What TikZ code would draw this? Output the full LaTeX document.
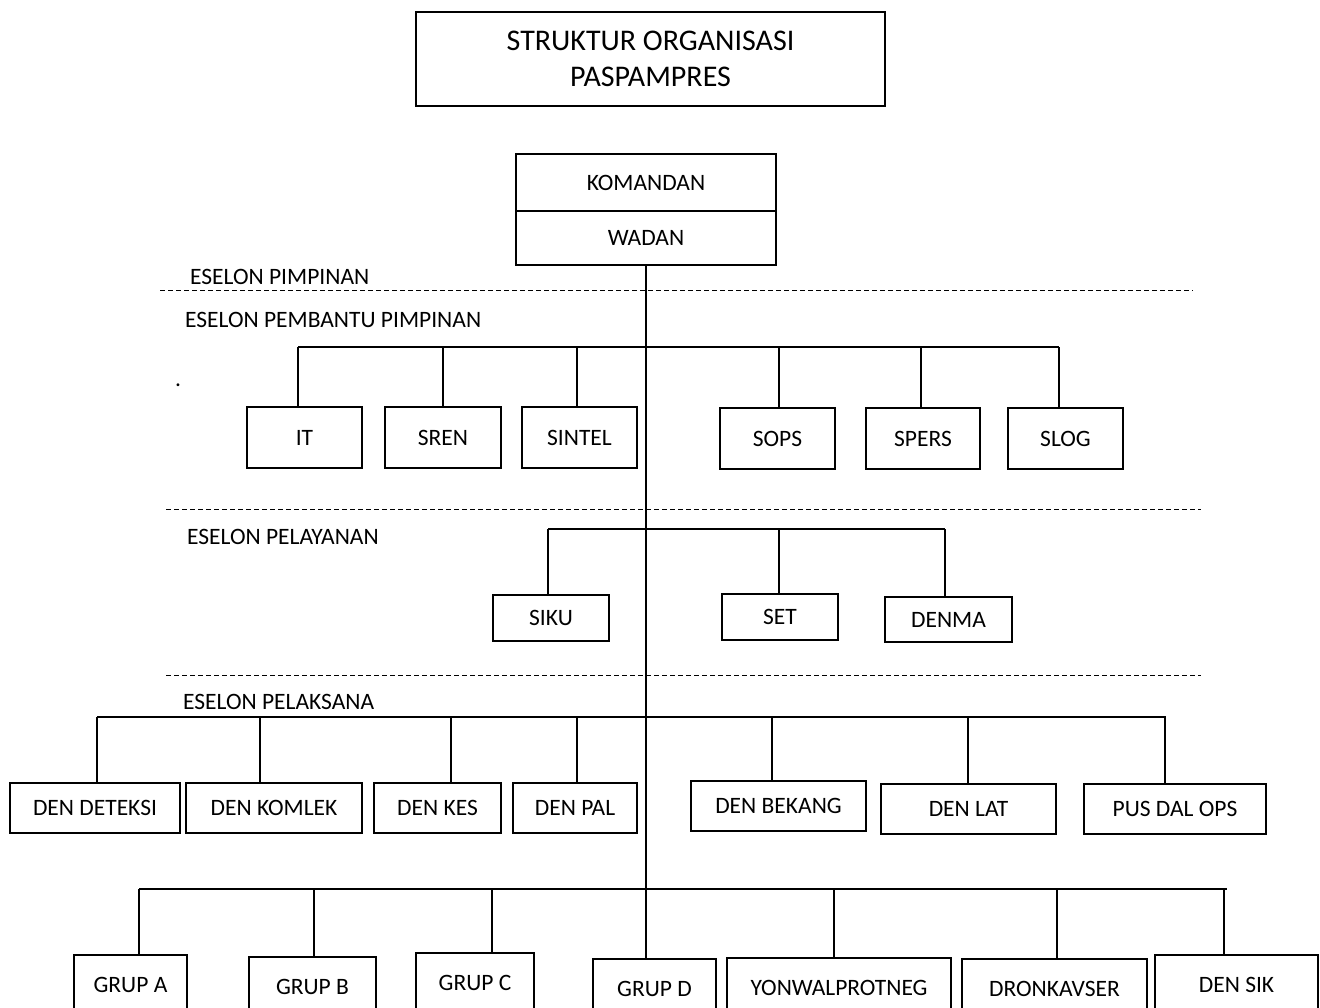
\documentclass[tikz,border=0pt]{standalone}
\usepackage{fontspec}
\setmainfont{Carlito}
\usetikzlibrary{calc}
\tikzset{
  unitbox/.style={draw, line width=2pt, inner sep=0pt, font=\fontsize{23.5}{28}\selectfont},
  link/.style={line width=1.3pt},
  sepline/.style={line width=1pt, dash pattern=on 5pt off 3pt},
  eselon/.style={anchor=west, inner sep=0pt, font=\fontsize{23.5}{28}\selectfont}
}

\begin{document}
\begin{tikzpicture}[x=1pt, y=-1pt]
		%%%%% START %%%%%
		\clip (0, 0) rectangle (1320, 1007);

		\node[unitbox, minimum width=469, minimum height=94, align=center,
		      font=\fontsize{30}{36}\selectfont] (judul) at (650.5, 59)
		      {STRUKTUR ORGANISASI\\PASPAMPRES};

		\node[unitbox, minimum width=260, minimum height=57] (komandan) at (646, 182.5) {KOMANDAN};
		\node[unitbox, minimum width=260, minimum height=54] (wadan) at (646, 238) {WADAN};

		% eselon separators
		\draw[sepline] (160, 290) -- (1193, 290);
		\draw[sepline] (166, 509) -- (1201, 509);
		\draw[sepline] (166, 675) -- (1201, 675);

		\node[eselon] (esPimpinan) at (190, 277) {ESELON PIMPINAN};
		\node[eselon] (esPembantu) at (185, 320) {ESELON PEMBANTU PIMPINAN};
		\node[eselon] (esPelayanan) at (187, 537) {ESELON PELAYANAN};
		\node[eselon] (esPelaksana) at (183, 702) {ESELON PELAKSANA};
		\node[eselon, anchor=base] (titik) at (178, 386) {.};

		% eselon pembantu pimpinan
		\node[unitbox, minimum width=115, minimum height=61] (it) at (304.5, 437.5) {IT};
		\node[unitbox, minimum width=116, minimum height=61] (sren) at (443, 437.5) {SREN};
		\node[unitbox, minimum width=115, minimum height=61] (sintel) at (579.5, 437.5) {SINTEL};
		\node[unitbox, minimum width=115, minimum height=61] (sops) at (777.5, 438.5) {SOPS};
		\node[unitbox, minimum width=114, minimum height=61] (spers) at (923, 438.5) {SPERS};
		\node[unitbox, minimum width=115, minimum height=61] (slog) at (1065.5, 438.5) {SLOG};

		% eselon pelayanan
		\node[unitbox, minimum width=116, minimum height=46] (siku) at (551, 618) {SIKU};
		\node[unitbox, minimum width=116, minimum height=46] (set) at (780, 617) {SET};
		\node[unitbox, minimum width=127, minimum height=45] (denma) at (948.5, 619.5) {DENMA};

		% eselon pelaksana
		\node[unitbox, minimum width=170, minimum height=50] (deteksi) at (95, 808) {DEN DETEKSI};
		\node[unitbox, minimum width=176, minimum height=50] (komlek) at (274, 807.5) {DEN KOMLEK};
		\node[unitbox, minimum width=127, minimum height=50] (kes) at (437.5, 808) {DEN KES};
		\node[unitbox, minimum width=124, minimum height=50] (pal) at (575, 808) {DEN PAL};
		\node[unitbox, minimum width=175, minimum height=50] (bekang) at (778.5, 806) {DEN BEKANG};
		\node[unitbox, minimum width=175, minimum height=50] (lat) at (968.5, 809) {DEN LAT};
		\node[unitbox, minimum width=182, minimum height=50] (pusdalops) at (1175, 808.5) {PUS DAL OPS};

		\node[unitbox, minimum width=113, minimum height=60] (grupa) at (130.5, 985) {GRUP A};
		\node[unitbox, minimum width=127, minimum height=60] (grupb) at (312.5, 987) {GRUP B};
		\node[unitbox, minimum width=118, minimum height=60] (grupc) at (475, 983) {GRUP C};
		\node[unitbox, minimum width=123, minimum height=60] (grupd) at (654.5, 989) {GRUP D};
		\node[unitbox, minimum width=224, minimum height=60] (yonwal) at (839, 988) {YONWALPROTNEG};
		\node[unitbox, minimum width=185, minimum height=60] (dronkavser) at (1054.5, 989) {DRONKAVSER};
		\node[unitbox, minimum width=163, minimum height=60] (densik) at (1236.5, 985) {DEN SIK};

		% garis komando
		\draw[link] (wadan.south) -- (wadan.south |- grupd.north);

		\draw[link] (298, 347) -- (1059, 347);
		\foreach \n/\x in {it/298, sren/443, sintel/577, sops/779, spers/921, slog/1059}
			\draw[link] (\x, 347) -- (\x, 0 |- \n.north);

		\draw[link] (548, 529) -- (945, 529);
		\foreach \n/\x in {siku/548, set/779, denma/945}
			\draw[link] (\x, 529) -- (\x, 0 |- \n.north);

		\draw[link] (97, 717) -- (1166, 717);
		\foreach \n/\x in {deteksi/97, komlek/260, kes/451, pal/577, bekang/772, lat/968, pusdalops/1165}
			\draw[link] (\x, 717) -- (\x, 0 |- \n.north);

		\draw[link] (139, 889) -- (1227, 889);
		\foreach \n/\x in {grupa/139, grupb/314, grupc/492, yonwal/834, dronkavser/1057, densik/1224}
			\draw[link] (\x, 889) -- (\x, 0 |- \n.north);

		%%%%% END %%%%%
\end{tikzpicture}
\end{document}
